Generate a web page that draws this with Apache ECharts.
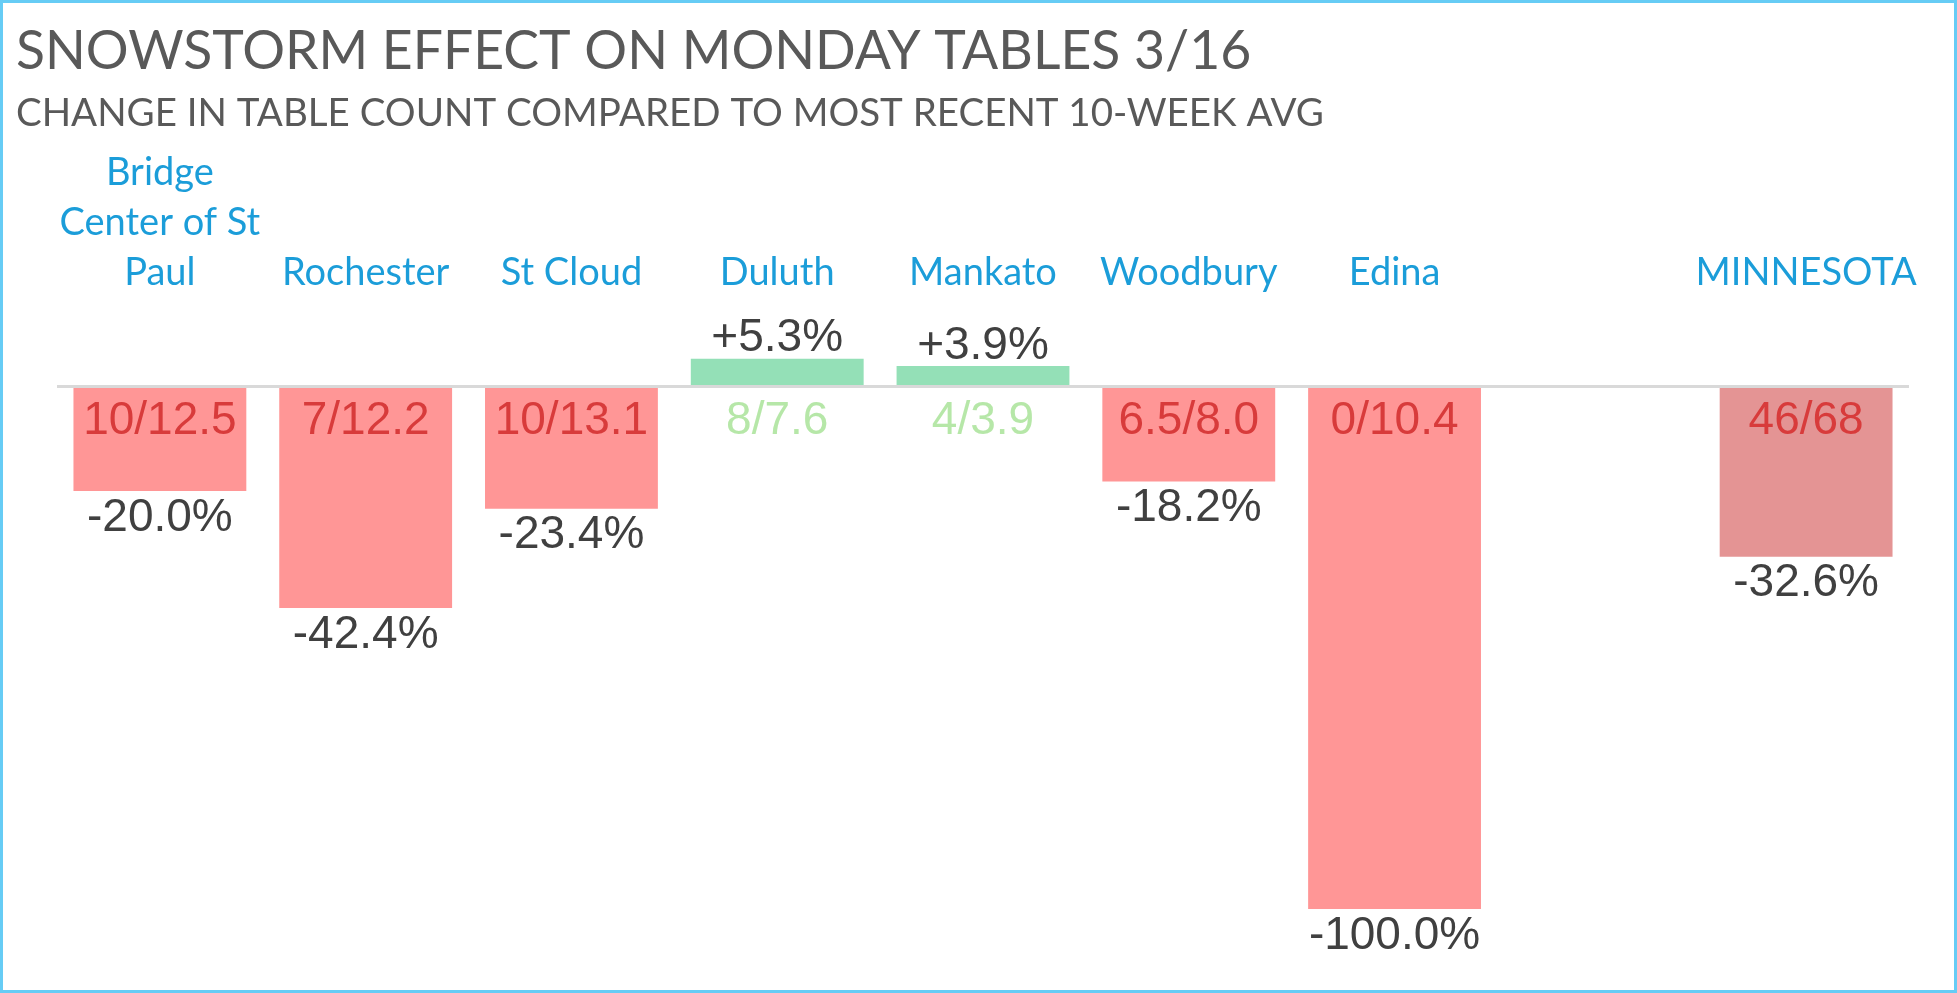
<!DOCTYPE html>
<html>
<head>
<meta charset="utf-8">
<script src="https://cdn.jsdelivr.net/npm/echarts@6/dist/echarts.min.js"></script>
<style>
  html, body { margin: 0; padding: 0; background: #fff; }
  #main { width: 1957px; height: 993px; }
</style>
</head>
<body>
<div id="main"></div>
<script>
var categories = ['Bridge Center of St Paul', 'Rochester', 'St Cloud', 'Duluth', 'Mankato', 'Woodbury', 'Edina', '', 'MINNESOTA'];
var changePct = [-20.0, -42.4, -23.4, 5.3, 3.9, -18.2, -100.0, null, -32.6];
var tableRatio = ['10/12.5', '7/12.2', '10/13.1', '8/7.6', '4/3.9', '6.5/8.0', '0/10.4', '', '46/68'];
var totalName = 'MINNESOTA';

var myChart = echarts.init(document.getElementById('main'));

function fmtPct(v) {
    return (v > 0 ? '+' : '') + v.toFixed(1) + '%';
}

// word wrap like the cell does, about 12 chars a line
function wrapName(name) {
    var words = name.split(' ');
    var lines = [], cur = '';
    words.forEach(function (w) {
        var next = cur ? cur + ' ' + w : w;
        if (next.length > 12 && cur) {
            lines.push(cur);
            cur = w;
        } else {
            cur = next;
        }
    });
    if (cur) lines.push(cur);
    return lines.join('\n');
}

// main bars, percent label outside
var barData = changePct.map(function (v, i) {
    if (v == null) return '-';
    var color = v >= 0 ? '#94E0B7' : (categories[i] === totalName ? '#E49494' : '#FF9696');
    return {
        value: v,
        itemStyle: { color: color },
        label: { distance: v >= 0 ? -3 : 4 }
    };
});

// transparent twin bars, carries the "tables/avg" label near the baseline
var ratioData = changePct.map(function (v, i) {
    if (v == null) return '-';
    return {
        value: v,
        label: {
            position: v >= 0 ? 'bottom' : 'insideTop',
            distance: 12,
            color: v >= 0 ? '#B6E7A8' : '#D83B3B'
        }
    };
});

var option = {
    animation: false,
    backgroundColor: '#fff',
    title: {
        text: 'SNOWSTORM EFFECT ON MONDAY TABLES 3/16',
        subtext: 'CHANGE IN TABLE COUNT COMPARED TO MOST RECENT 10-WEEK AVG',
        left: 11,
        top: 20,
        itemGap: 15,
        textStyle: {
            fontFamily: 'Lato',
            fontSize: 53.5,
            fontWeight: 'normal',
            color: '#595959'
        },
        subtextStyle: {
            fontFamily: 'Lato',
            fontSize: 38.5,
            color: '#595959'
        }
    },
    graphic: [{
        type: 'rect',
        shape: { x: 1.5, y: 1.5, width: 1954, height: 990 },
        style: { fill: 'none', stroke: '#66CCF5', lineWidth: 3 },
        silent: true
    }],
    grid: {
        left: 57,
        right: 48,
        top: 308,
        bottom: 84
    },
    xAxis: {
        type: 'category',
        data: categories,
        position: 'top',
        axisLine: { show: false },
        axisTick: { show: false },
        axisLabel: {
            interval: 0,
            margin: 10,
            fontFamily: 'Lato',
            fontSize: 38,
            lineHeight: 50,
            color: '#1B9DD9',
            formatter: wrapName
        }
    },
    yAxis: {
        type: 'value',
        min: -100,
        max: 15,
        show: false,
        splitLine: { show: false }
    },
    series: [
        {
            name: 'change',
            type: 'bar',
            barWidth: '84%',
            barGap: '-100%',
            data: barData,
            label: {
                show: true,
                position: 'outside',
                fontFamily: 'Liberation Sans',
                fontSize: 46,
                color: '#404040',
                formatter: function (p) { return fmtPct(p.value); }
            }
        },
        {
            name: 'ratio',
            type: 'bar',
            barWidth: '84%',
            barGap: '-100%',
            data: ratioData,
            itemStyle: { color: 'rgba(0,0,0,0)' },
            label: {
                show: true,
                fontFamily: 'Liberation Sans',
                fontSize: 46,
                formatter: function (p) { return tableRatio[p.dataIndex]; }
            },
            markLine: {
                silent: true,
                symbol: ['none', 'none'],
                label: { show: false },
                lineStyle: { color: '#D9D9D9', width: 3, type: 'solid' },
                data: [{ yAxis: 0 }]
            },
            z: 3
        }
    ]
};

myChart.setOption(option);
</script>
</body>
</html>
